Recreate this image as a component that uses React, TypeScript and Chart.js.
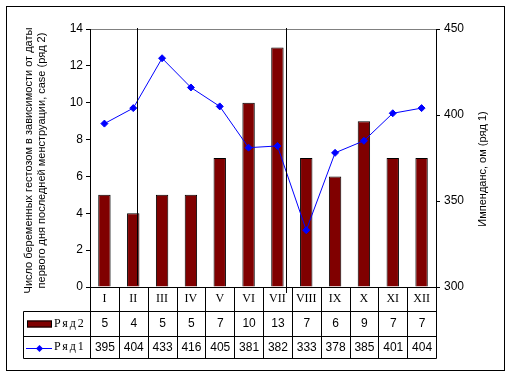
import React, { useEffect, useRef } from "react";
import { Chart, registerables } from "chart.js";

Chart.register(...registerables);

const categories = ["I", "II", "III", "IV", "V", "VI", "VII", "VIII", "IX", "X", "XI", "XII"];
const series2 = [5, 4, 5, 5, 7, 10, 13, 7, 6, 9, 7, 7]; // bars, left axis
const series1 = [395, 404, 433, 416, 405, 381, 382, 333, 378, 385, 401, 404]; // line, right axis
const series2Label = "Ряд2";
const series1Label = "Ряд1";
const leftTitle = ["Число беременных гестозом в зависимости от даты", "первого дня последней менструации, case (ряд 2)"];
const rightTitle = "Импенданс, ом (ряд 1)";
const strayLines = [1.13, 6.31]; // positions in category units

const SANS = '"Liberation Sans", Arial, sans-serif';
const SERIF = '"Liberation Serif", "Times New Roman", serif';
const BAR_COLOR = "#800000";
const LINE_COLOR = "#0000FF";

const tablePlugin = {
  id: "tablePlugin",
  afterDatasetsDraw(chart: any) {
    const ctx = chart.ctx as CanvasRenderingContext2D;
    const area = chart.chartArea;
    const x = chart.scales.x;
    const n = categories.length;
    const colW = (area.right - area.left) / n;
    ctx.save();
    ctx.strokeStyle = "#000";
    ctx.lineWidth = 1;
    for (const v of strayLines) {
      const px = Math.round(x.getPixelForValue(v)) + 0.5;
      ctx.beginPath();
      ctx.moveTo(px, area.top - 1);
      ctx.lineTo(px, v < 3 ? area.bottom - 2 : area.bottom + 6);
      ctx.stroke();
    }
    ctx.restore();
  },
  afterDraw(chart: any) {
    const ctx = chart.ctx as CanvasRenderingContext2D;
    const area = chart.chartArea;
    const x = chart.scales.x;
    const n = categories.length;
    const colW = (area.right - area.left) / n;
    const top = area.bottom;
    const r1 = top + 24;
    const r2 = r1 + 25;
    const r3 = r2 + 22;
    const tableLeft = 23;
    const L = Math.round(area.left) + 0.5;
    const R = Math.round(area.right) + 0.5;
    ctx.save();
    ctx.strokeStyle = "#000";
    ctx.lineWidth = 1;
    ctx.beginPath();
    // horizontal lines
    ctx.moveTo(L, Math.round(top) + 0.5);
    ctx.lineTo(R, Math.round(top) + 0.5);
    for (const yy of [r1, r2, r3]) {
      ctx.moveTo(tableLeft + 0.5, Math.round(yy) + 0.5);
      ctx.lineTo(R, Math.round(yy) + 0.5);
    }
    // vertical lines
    ctx.moveTo(tableLeft + 0.5, Math.round(r1) + 0.5);
    ctx.lineTo(tableLeft + 0.5, Math.round(r3) + 0.5);
    for (let i = 0; i <= n; i++) {
      const px = Math.round(area.left + i * colW) + 0.5;
      ctx.moveTo(px, Math.round(top) + 0.5);
      ctx.lineTo(px, Math.round(r3) + 0.5);
    }
    ctx.stroke();

    // texts
    ctx.fillStyle = "#000";
    ctx.textAlign = "center";
    ctx.textBaseline = "middle";
    for (let i = 0; i < n; i++) {
      const cx = x.getPixelForValue(i);
      ctx.font = `12px ${SERIF}`;
      ctx.fillText(categories[i], cx, (top + r1) / 2);
      ctx.font = `12px ${SANS}`;
      ctx.fillText(String(series2[i]), cx + 0.5, (r1 + r2) / 2 + 0.5);
      ctx.fillText(String(series1[i]), cx + 0.5, (r2 + r3) / 2 + 0.5);
    }

    // legend keys
    ctx.fillStyle = BAR_COLOR;
    ctx.fillRect(27, (r1 + r2) / 2 - 3, 25, 7);
    ctx.strokeRect(27.5, (r1 + r2) / 2 - 2.5, 24, 6);
    const ly = Math.round((r2 + r3) / 2) + 1.5;
    ctx.strokeStyle = LINE_COLOR;
    ctx.beginPath();
    ctx.moveTo(26, ly);
    ctx.lineTo(52, ly);
    ctx.stroke();
    ctx.fillStyle = LINE_COLOR;
    ctx.beginPath();
    ctx.moveTo(39.5, ly - 3.5);
    ctx.lineTo(43, ly);
    ctx.lineTo(39.5, ly + 3.5);
    ctx.lineTo(36, ly);
    ctx.closePath();
    ctx.fill();

    ctx.fillStyle = "#000";
    ctx.textAlign = "left";
    ctx.font = `12px ${SERIF}`;
    (ctx as any).letterSpacing = "2px";
    ctx.fillText(series2Label, 54, (r1 + r2) / 2);
    ctx.fillText(series1Label, 54, (r2 + r3) / 2);
    (ctx as any).letterSpacing = "0px";

    // axis titles
    ctx.font = `11px ${SANS}`;
    ctx.textAlign = "center";
    ctx.save();
    ctx.translate(29, 160.5);
    ctx.rotate(-Math.PI / 2);
    ctx.fillText(leftTitle[0], 0, 0);
    ctx.fillText(leftTitle[1], 0, 13);
    ctx.restore();
    ctx.save();
    ctx.translate(483, 169);
    ctx.rotate(-Math.PI / 2);
    ctx.fillText(rightTitle, 0, 0);
    ctx.restore();

    // outer border
    ctx.strokeStyle = "#000";
    ctx.strokeRect(6.5, 6.5, 498, 364);
    ctx.restore();
  },
};

export default function App() {
  const ref = useRef<HTMLCanvasElement | null>(null);
  useEffect(() => {
    document.body.style.margin = "0";
    const canvas = ref.current;
    if (!canvas) return;
    const tickFont = { family: SANS, size: 12 };
    const chart = new Chart(canvas, {
      data: {
        labels: categories,
        datasets: [
          {
            type: "line",
            label: series1Label,
            data: series1,
            yAxisID: "y1",
            borderColor: LINE_COLOR,
            backgroundColor: LINE_COLOR,
            borderWidth: 1,
            pointStyle: "rectRot",
            pointRadius: 3.5,
            pointBorderWidth: 1,
            order: 0,
          } as any,
          {
            type: "bar",
            label: series2Label,
            data: series2,
            yAxisID: "y",
            backgroundColor: BAR_COLOR,
            borderColor: "#000",
            borderWidth: 1,
            barPercentage: 0.43,
            categoryPercentage: 1,
            order: 1,
          } as any,
        ],
      },
      options: {
        responsive: false,
        animation: false,
        layout: { padding: { top: 29, bottom: 90, left: 0, right: 0 } },
        plugins: { legend: { display: false }, tooltip: { enabled: false } },
        scales: {
          x: { type: "category", display: false, offset: true },
          y: {
            type: "linear",
            position: "left",
            min: 0,
            max: 14,
            ticks: { stepSize: 2, font: tickFont, color: "#000", padding: 3 },
            grid: {
              color: (c: any) => (c.tick && c.tick.value === 14 ? "#808080" : "rgba(0,0,0,0)"),
              tickColor: "#000",
              tickLength: 4,
            },
            border: { color: "#000" },
            afterFit: (s: any) => {
              s.width = 90;
            },
          },
          y1: {
            type: "linear",
            position: "right",
            min: 300,
            max: 450,
            ticks: { stepSize: 50, font: tickFont, color: "#000", padding: 4 },
            grid: { drawOnChartArea: false, tickColor: "#000", tickLength: 4 },
            border: { color: "#000" },
            afterFit: (s: any) => {
              s.width = 74;
            },
          },
        },
      } as any,
      plugins: [tablePlugin],
    });
    return () => chart.destroy();
  }, []);
  return (
    <div style={{ width: 510, height: 377, background: "#fff" }}>
      <canvas ref={ref} width={510} height={377} style={{ display: "block" }} />
    </div>
  );
}
